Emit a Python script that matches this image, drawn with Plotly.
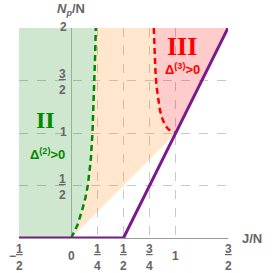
import plotly.graph_objects as go

# ---- data ----
x_ticks = [-0.5, 0, 0.25, 0.5, 0.75, 1, 1.5]
x_tick_num = ["1", "0", "1", "1", "3", "1", "3"]
x_tick_den = ["2", "", "4", "2", "4", "", "2"]
x_tick_sign = ["−", "", "", "", "", "", ""]
y_ticks = [0.5, 1, 1.5, 2]
y_tick_num = ["1", "1", "3", "2"]
y_tick_den = ["2", "", "2", ""]

# green dashed boundary (Delta^(2) > 0 region edge)
green_x = [0, 0.03, 0.06, 0.102, 0.135, 0.159, 0.187, 0.203, 0.213, 0.222, 0.229, 0.235]
green_y = [0, 0.06, 0.124, 0.257, 0.38, 0.505, 0.743, 1.0, 1.25, 1.5, 1.75, 2.0]

# red dashed boundary (Delta^(3) > 0 region edge)
red_x = [0.79, 0.795, 0.805, 0.815, 0.83, 0.848, 0.87, 0.9, 0.935, 0.97, 1.0]
red_y = [2.0, 1.8, 1.6, 1.45, 1.33, 1.22, 1.14, 1.07, 1.03, 1.01, 1.0]

# purple boundary
purple_x = [-0.5, 0.5, 1.5]
purple_y = [0, 0, 2]

# lower edge of orange region
orange_edge_x = [1.0, 0.0]
orange_edge_y = [1.0, 0.0]

x_range = [-0.5, 1.5]
y_range = [0, 2]

GREEN_FILL = "rgba(0,128,0,0.19)"
ORANGE_FILL = "rgba(255,128,0,0.2)"
RED_FILL = "rgba(255,0,0,0.2)"
GREEN = "#008a00"
RED = "#ff0000"
PURPLE = "#7b1a8b"
TXT = "#666666"
FONT = "Liberation Sans"

fig = go.Figure()

# green region
gx = [x_range[0]] + green_x + [x_range[0]]
gy = [0] + green_y + [y_range[1]]
fig.add_trace(go.Scatter(x=gx, y=gy, fill="toself", fillcolor=GREEN_FILL,
                         mode="none", hoverinfo="skip"))
# orange region
ox = green_x + red_x + orange_edge_x
oy = green_y + red_y + orange_edge_y
fig.add_trace(go.Scatter(x=ox, y=oy, fill="toself", fillcolor=ORANGE_FILL,
                         mode="none", hoverinfo="skip"))
# red region
rx = red_x + [purple_x[2]]
ry = red_y + [purple_y[2]]
fig.add_trace(go.Scatter(x=rx, y=ry, fill="toself", fillcolor=RED_FILL,
                         mode="none", hoverinfo="skip"))

# dashed curves
fig.add_trace(go.Scatter(x=green_x, y=green_y, mode="lines",
                         line=dict(color=GREEN, width=2.5, dash="6px,4px"), hoverinfo="skip"))
fig.add_trace(go.Scatter(x=red_x, y=red_y, mode="lines",
                         line=dict(color=RED, width=2.5, dash="6px,4px"), hoverinfo="skip"))
# purple line
fig.add_trace(go.Scatter(x=purple_x, y=purple_y, mode="lines",
                         line=dict(color=PURPLE, width=3), hoverinfo="skip", cliponaxis=False))

tickfont = dict(family=FONT, size=12, color=TXT)
ann = []


def label(x, y, text, xanchor="center", xshift=0, yshift=0, font=tickfont):
    ann.append(dict(x=x, y=y, xref="x", yref="y", text=text, showarrow=False,
                    xanchor=xanchor, yanchor="middle", xshift=xshift, yshift=yshift,
                    font=font))


for v, n, d, s in zip(x_ticks, x_tick_num, x_tick_den, x_tick_sign):
    if d:
        label(v, 0, "<b><u>%s</u></b>" % n, yshift=-11)
        label(v, 0, "<b>%s</b>" % d, yshift=-28)
    else:
        label(v, 0, "<b>%s</b>" % n, yshift=-18)
    if s:
        label(v, 0, "<b>%s</b>" % s, xshift=-6.5, yshift=-18)

for v, n, d in zip(y_ticks, y_tick_num, y_tick_den):
    if d:
        label(0, v, "<b><u>%s</u></b>" % n, xanchor="center", xshift=-9, yshift=7)
        label(0, v, "<b>%s</b>" % d, xanchor="center", xshift=-9, yshift=-9)
    else:
        label(0, v, "<b>%s</b>" % n, xanchor="center", xshift=-8, yshift=1)

label(0, 2, "<b><i>N</i><sub><i>p</i></sub>/N</b>", yshift=19,
      font=dict(family=FONT, size=13, color=TXT))
label(1.5, 0, "<b>J/N</b>", xanchor="left", xshift=12,
      font=dict(family=FONT, size=13, color=TXT))
label(-0.248, 1.124, "<b>II</b>", font=dict(family="Liberation Serif", size=24, color=GREEN))
label(-0.224, 0.8, "<b>Δ<sup>(2)</sup>>0</b>", font=dict(family=FONT, size=13, color=GREEN))
label(1.062, 1.824, "<b>III</b>", font=dict(family="Liberation Serif", size=26, color=RED))
label(1.06, 1.61, "<b>Δ<sup>(3)</sup>>0</b>", font=dict(family=FONT, size=13, color=RED))

fig.update_layout(
    width=273, height=273,
    margin=dict(l=18.5, r=44.5, t=28, b=35),
    paper_bgcolor="white", plot_bgcolor="white",
    showlegend=False,
    annotations=ann,
    xaxis=dict(range=x_range, tickvals=x_ticks, showticklabels=False, ticks="",
               showgrid=True, gridcolor="#c8c8c8", griddash="dash", gridwidth=1,
               zeroline=True, zerolinecolor="#bbbbbb", zerolinewidth=1,
               showline=False, fixedrange=True),
    yaxis=dict(range=y_range, tickvals=[0] + y_ticks, showticklabels=False, ticks="",
               showgrid=True, gridcolor="#c8c8c8", griddash="dash", gridwidth=1,
               zeroline=True, zerolinecolor="#999999", zerolinewidth=1,
               showline=False, fixedrange=True),
)

fig.write_html("out.html", config=dict(displayModeBar=False),
               post_script="document.body.style.margin='0';")
